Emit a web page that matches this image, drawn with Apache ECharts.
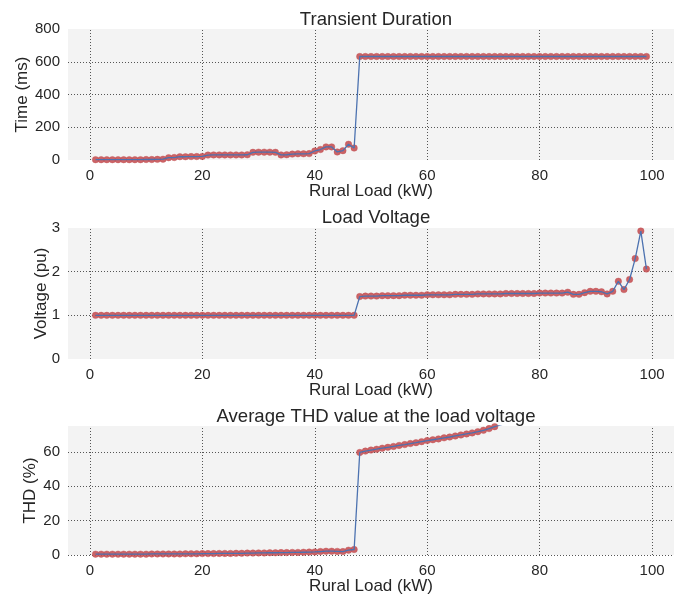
<!DOCTYPE html>
<html>
<head>
<meta charset="utf-8">
<script src="https://cdn.jsdelivr.net/npm/echarts@6/dist/echarts.min.js"></script>
<style>
  html, body { margin: 0; padding: 0; background: #ffffff; }
  #chart { width: 680px; height: 596px; }
</style>
</head>
<body>
<div id="chart"></div>
<script>
// Rural load steps (kW)
const loadKW = [
  1, 2, 3, 4, 5, 6, 7, 8, 9, 10, 11, 12, 13, 14, 15, 16, 17, 18, 19, 20,
  21, 22, 23, 24, 25, 26, 27, 28, 29, 30, 31, 32, 33, 34, 35, 36, 37, 38, 39, 40,
  41, 42, 43, 44, 45, 46, 47, 48, 49, 50, 51, 52, 53, 54, 55, 56, 57, 58, 59, 60,
  61, 62, 63, 64, 65, 66, 67, 68, 69, 70, 71, 72, 73, 74, 75, 76, 77, 78, 79, 80,
  81, 82, 83, 84, 85, 86, 87, 88, 89, 90, 91, 92, 93, 94, 95, 96, 97, 98, 99
];

// Transient duration (ms)
const transientMs = [
  2, 2, 2, 2, 2, 2, 2, 2, 2, 3, 3, 4, 5, 14, 15, 20, 20, 21, 21, 22,
  30, 31, 31, 31, 31, 31, 31, 32, 47, 48, 48, 48, 47, 31, 32, 36, 38, 38, 39, 55,
  64, 80, 80, 49, 57, 96, 73, 632, 632, 632, 632, 632, 632, 632, 632, 632, 632, 632, 632, 632,
  632, 632, 632, 632, 632, 632, 632, 632, 632, 632, 632, 632, 632, 632, 632, 632, 632, 632, 632, 632,
  632, 632, 632, 632, 632, 632, 632, 632, 632, 632, 632, 632, 632, 632, 632, 632, 632, 632, 632
];

// Load voltage (pu)
const voltagePu = [
  1.0, 1.0, 1.0, 1.0, 1.0, 1.0, 1.0, 1.0, 1.0, 1.0, 1.0, 1.0, 1.0, 1.0, 1.0, 1.0, 1.0, 1.0, 1.0, 1.0,
  1.0, 1.0, 1.0, 1.0, 1.0, 1.0, 1.0, 1.0, 1.0, 1.0, 1.0, 1.0, 1.0, 1.0, 1.0, 1.0, 1.0, 1.0, 1.0, 1.0,
  1.0, 1.0, 1.0, 1.0, 1.0, 1.0, 1.0, 1.43, 1.44, 1.44, 1.44, 1.45, 1.45, 1.45, 1.45, 1.46, 1.46, 1.46, 1.46, 1.47,
  1.47, 1.47, 1.47, 1.47, 1.48, 1.48, 1.48, 1.48, 1.49, 1.49, 1.49, 1.49, 1.49, 1.50, 1.50, 1.50, 1.50, 1.50, 1.50, 1.51,
  1.51, 1.51, 1.51, 1.51, 1.53, 1.48, 1.48, 1.52, 1.55, 1.55, 1.54, 1.49, 1.55, 1.78, 1.59, 1.82, 2.30, 2.93, 2.06
];

// Average THD at the load voltage (%)
const thdPct = [
  0.5, 0.5, 0.5, 0.5, 0.5, 0.5, 0.5, 0.5, 0.5, 0.5, 0.6, 0.6, 0.6, 0.6, 0.6, 0.6, 0.7, 0.7, 0.7, 0.8,
  0.8, 0.8, 0.9, 0.9, 0.9, 1.0, 1.0, 1.1, 1.1, 1.2, 1.2, 1.3, 1.3, 1.4, 1.4, 1.5, 1.5, 1.6, 1.7, 1.8,
  2.0, 2.2, 2.2, 2.1, 2.0, 2.8, 3.2, 59.6, 60.4, 61.0, 61.5, 62.1, 62.6, 63.1, 63.7, 64.2, 64.8, 65.3, 65.9, 66.5,
  67.0, 67.5, 68.1, 68.6, 69.2, 69.8, 70.4, 71.0, 71.7, 72.5, 73.5, 74.6, 75.6, 76.5, 77.4, 78.3, 79.2, 80.1, 81.0, 81.9,
  82.8, 83.7, 84.6, 85.5, 86.4, 87.3, 88.2, 89.1, 90.0, 90.9, 91.8, 92.7, 93.6, 94.5, 95.4, 96.3, 97.2, 98.1, 99.0
];

// Axis tick values used for the dotted grid
const xGridTicks = [0, 20, 40, 60, 80, 100];
const timeGridTicks = [200, 400, 600];
const voltGridTicks = [1, 2];
const thdGridTicks = [0, 20, 40, 60];

const titles = ['Transient Duration', 'Load Voltage', 'Average THD value at the load voltage'];
const yNames = ['Time (ms)', 'Voltage (pu)', 'THD (%)'];
const xName = 'Rural Load (kW)';

const FONT = '"Liberation Sans", Arial, sans-serif';
const TEXT = '#262626';
const RED = '#c44e52';
const BLUE = '#4c72b0';

const seriesValues = [transientMs, voltagePu, thdPct];
const yGrids = [timeGridTicks, voltGridTicks, thdGridTicks];
const gridTops = [29, 228, 426];
const titleTops = [5, 203, 402];
const yNameGaps = [37, 18, 29];
const yRanges = [
  { min: 0, max: 800, interval: 200 },
  { min: 0, max: 3, interval: 1 },
  { min: 0, max: 75, interval: 20 }
];

const grids = [], xAxes = [], yAxes = [], series = [], titleList = [];

for (let k = 0; k < 3; k++) {
  const pts = loadKW.map((x, i) => [x, seriesValues[k][i]]);
  grids.push({
    left: 68, right: 6, top: gridTops[k], height: 131,
    show: true, backgroundColor: '#f3f3f3', borderWidth: 0
  });
  titleList.push({
    text: titles[k], left: 371, top: titleTops[k], textAlign: 'center',
    textStyle: { fontFamily: FONT, fontSize: 18.6, fontWeight: 'normal', color: TEXT }
  });
  xAxes.push({
    type: 'value', gridIndex: k, min: -3.9, max: 103.9,
    name: xName, nameLocation: 'middle', nameGap: 23, nameMoveOverlap: false,
    nameTextStyle: { fontFamily: FONT, fontSize: 17, color: TEXT },
    axisLine: { show: false }, axisTick: { show: false }, splitLine: { show: false },
    axisLabel: {
      fontFamily: FONT, fontSize: 15, color: TEXT, margin: 8,
      showMinLabel: false, showMaxLabel: false
    }
  });
  yAxes.push(Object.assign({
    type: 'value', gridIndex: k,
    name: yNames[k], nameLocation: 'middle', nameGap: yNameGaps[k], nameMoveOverlap: false,
    nameTextStyle: { fontFamily: FONT, fontSize: 17, color: TEXT },
    axisLine: { show: false }, axisTick: { show: false }, splitLine: { show: false },
    axisLabel: {
      fontFamily: FONT, fontSize: 15, color: TEXT, margin: 8,
      showMaxLabel: k !== 2
    }
  }, yRanges[k]));

  const gridData = xGridTicks.map(v => ({ xAxis: v })).concat(yGrids[k].map(v => ({ yAxis: v })));
  series.push({
    type: 'scatter', xAxisIndex: k, yAxisIndex: k, data: pts,
    symbol: 'circle', symbolSize: 6.5, z: 2,
    itemStyle: { color: RED, opacity: 0.88, borderColor: 'rgba(196,78,82,0.45)', borderWidth: 1 },
    markLine: {
      silent: true, symbol: ['none', 'none'], label: { show: false },
      lineStyle: { type: [1, 2], color: '#555555', width: 1 },
      emphasis: { disabled: true },
      data: gridData, z: 1
    }
  });
  series.push({
    type: 'line', xAxisIndex: k, yAxisIndex: k, data: pts,
    showSymbol: false, z: 3, clip: true,
    lineStyle: { color: BLUE, width: 1.3 }
  });
}

const chart = echarts.init(document.getElementById('chart'), null, { renderer: 'canvas' });
chart.setOption({
  animation: false,
  backgroundColor: '#ffffff',
  title: titleList,
  grid: grids,
  xAxis: xAxes,
  yAxis: yAxes,
  series: series
});
</script>
</body>
</html>
